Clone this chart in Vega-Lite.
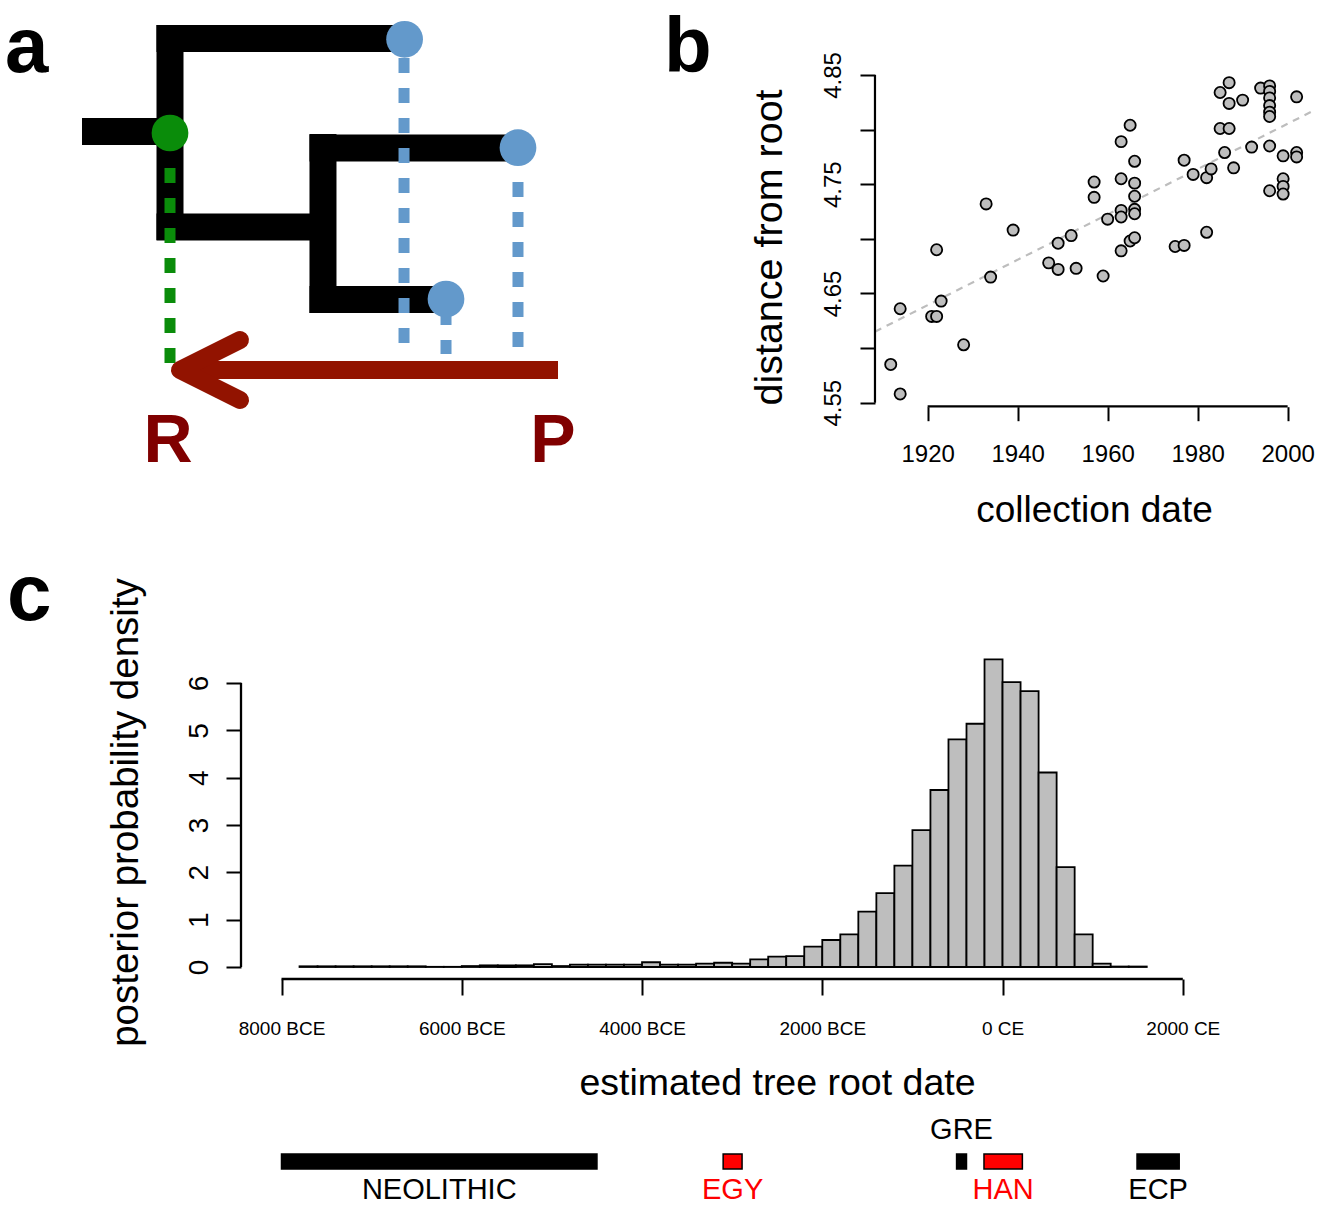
{
  "$schema": "https://vega.github.io/schema/vega-lite/v6.json",
  "padding": 0,
  "background": "white",
  "spacing": 125,
  "bounds": "flush",
  "config": {
    "view": {"stroke": null},
    "font": "Liberation Sans",
    "axis": {"titleFontWeight": "normal", "labelColor": "black", "titleColor": "black", "tickColor": "black", "grid": false, "domain": false, "labelFlush": false, "labelOverlap": false}
  },
  "datasets": {
    "branches": [
      {"x0": -0.2274, "x1": 0.0, "y0": 0.712, "y1": 0.712},
      {"x0": 0.0, "x1": 0.0, "y0": -0.1077, "y1": 1.546},
      {"x0": -0.0349, "x1": 0.6047, "y0": -0.0038, "y1": -0.0038},
      {"x0": -0.0349, "x1": 0.3953, "y0": 1.446, "y1": 1.446},
      {"x0": 0.3953, "x1": 0.3953, "y0": 0.7308, "y1": 2.1077},
      {"x0": 0.3605, "x1": 0.8992, "y0": 0.8385, "y1": 0.8385},
      {"x0": 0.3605, "x1": 0.7132, "y0": 2.0038, "y1": 2.0038}
    ],
    "dashes": [
      {"kind": "root", "x": 0.0, "y0": 0.9923, "y1": 2.5308},
      {"kind": "tip", "x": 0.6047, "y0": 0.146, "y1": 2.392},
      {"kind": "tip", "x": 0.8992, "y0": 1.1, "y1": 2.392},
      {"kind": "tip", "x": 0.7132, "y0": 2.0846, "y1": 2.423}
    ],
    "nodes": [
      {"kind": "root", "x": 0.0, "y": 0.7231},
      {"kind": "tip", "x": 0.6062, "y": 0.0023},
      {"kind": "tip", "x": 0.8992, "y": 0.8362},
      {"kind": "tip", "x": 0.7132, "y": 2.0}
    ],
    "shaft": [{"x0": 0.0258, "x1": 1.0026, "y0": 2.546, "y1": 2.546}],
    "head": [
      {"seq": 1, "x": 0.1809, "y": 2.315},
      {"seq": 2, "x": 0.0258, "y": 2.546},
      {"seq": 3, "x": 0.1809, "y": 2.777}
    ],
    "ends": [
      {"label": "R", "x": -0.0052, "y": 3.2538},
      {"label": "P", "x": 0.9897, "y": 3.2538}
    ],
    "panelA": [{"label": "a", "x": -0.4264, "y": 0.2538}],
    "panelB": [{"label": "b", "year": 1861.4, "dist": 4.85274}],
    "panelC": [{"label": "c", "start": -11045.6, "density": 7.332}],
    "fit": [
      {"year": 1908.3, "dist": 4.615},
      {"year": 2005.3, "dist": 4.8164}
    ],
    "samples": [
      {"year": 1911.8, "dist": 4.585}, {"year": 1913.9, "dist": 4.558}, {"year": 1913.9, "dist": 4.636},
      {"year": 1920.9, "dist": 4.629}, {"year": 1922.0, "dist": 4.629}, {"year": 1923.0, "dist": 4.643},
      {"year": 1922.0, "dist": 4.69}, {"year": 1928.0, "dist": 4.603}, {"year": 1933.0, "dist": 4.732},
      {"year": 1934.0, "dist": 4.665}, {"year": 1939.0, "dist": 4.708}, {"year": 1946.9, "dist": 4.678},
      {"year": 1949.0, "dist": 4.672}, {"year": 1949.0, "dist": 4.696}, {"year": 1951.9, "dist": 4.703},
      {"year": 1953.0, "dist": 4.673}, {"year": 1957.0, "dist": 4.752}, {"year": 1957.0, "dist": 4.738},
      {"year": 1959.0, "dist": 4.666}, {"year": 1960.0, "dist": 4.718}, {"year": 1963.0, "dist": 4.789},
      {"year": 1965.0, "dist": 4.804}, {"year": 1966.0, "dist": 4.771}, {"year": 1963.0, "dist": 4.755},
      {"year": 1966.0, "dist": 4.751}, {"year": 1966.0, "dist": 4.739}, {"year": 1963.0, "dist": 4.726},
      {"year": 1963.0, "dist": 4.72}, {"year": 1966.0, "dist": 4.727}, {"year": 1966.0, "dist": 4.723},
      {"year": 1965.0, "dist": 4.698}, {"year": 1966.0, "dist": 4.701}, {"year": 1963.0, "dist": 4.689},
      {"year": 1977.0, "dist": 4.772}, {"year": 1975.0, "dist": 4.693}, {"year": 1977.0, "dist": 4.694},
      {"year": 1979.0, "dist": 4.759}, {"year": 1982.0, "dist": 4.756}, {"year": 1983.0, "dist": 4.764},
      {"year": 1982.0, "dist": 4.706}, {"year": 1985.0, "dist": 4.834}, {"year": 1987.0, "dist": 4.843},
      {"year": 1987.0, "dist": 4.824}, {"year": 1990.0, "dist": 4.827}, {"year": 1985.0, "dist": 4.801},
      {"year": 1987.0, "dist": 4.801}, {"year": 1986.0, "dist": 4.779}, {"year": 1988.0, "dist": 4.765},
      {"year": 1992.0, "dist": 4.784}, {"year": 1994.0, "dist": 4.838}, {"year": 1996.0, "dist": 4.84},
      {"year": 1996.0, "dist": 4.835}, {"year": 1996.0, "dist": 4.829}, {"year": 1996.0, "dist": 4.822},
      {"year": 1996.0, "dist": 4.816}, {"year": 1996.0, "dist": 4.812}, {"year": 1996.0, "dist": 4.785},
      {"year": 1996.0, "dist": 4.744}, {"year": 1999.0, "dist": 4.776}, {"year": 1999.0, "dist": 4.755},
      {"year": 1999.0, "dist": 4.748}, {"year": 1999.0, "dist": 4.741}, {"year": 2002.0, "dist": 4.83},
      {"year": 2002.0, "dist": 4.779}, {"year": 2002.0, "dist": 4.775}
    ],
    "hist": [
      {"start": -7800, "end": -7600, "density": 0.015}, {"start": -7600, "end": -7400, "density": 0.015},
      {"start": -7400, "end": -7200, "density": 0.015}, {"start": -7200, "end": -7000, "density": 0.015},
      {"start": -7000, "end": -6800, "density": 0.015}, {"start": -6800, "end": -6600, "density": 0.015},
      {"start": -6600, "end": -6400, "density": 0.015}, {"start": -6400, "end": -6200, "density": 0.004},
      {"start": -6200, "end": -6000, "density": 0.004}, {"start": -6000, "end": -5800, "density": 0.02},
      {"start": -5800, "end": -5600, "density": 0.035}, {"start": -5600, "end": -5400, "density": 0.035},
      {"start": -5400, "end": -5200, "density": 0.035}, {"start": -5200, "end": -5000, "density": 0.06},
      {"start": -5000, "end": -4800, "density": 0.02}, {"start": -4800, "end": -4600, "density": 0.05},
      {"start": -4600, "end": -4400, "density": 0.05}, {"start": -4400, "end": -4200, "density": 0.05},
      {"start": -4200, "end": -4000, "density": 0.05}, {"start": -4000, "end": -3800, "density": 0.1},
      {"start": -3800, "end": -3600, "density": 0.05}, {"start": -3600, "end": -3400, "density": 0.05},
      {"start": -3400, "end": -3200, "density": 0.07}, {"start": -3200, "end": -3000, "density": 0.09},
      {"start": -3000, "end": -2800, "density": 0.07}, {"start": -2800, "end": -2600, "density": 0.16},
      {"start": -2600, "end": -2400, "density": 0.22}, {"start": -2400, "end": -2200, "density": 0.23},
      {"start": -2200, "end": -2000, "density": 0.43}, {"start": -2000, "end": -1800, "density": 0.57},
      {"start": -1800, "end": -1600, "density": 0.69}, {"start": -1600, "end": -1400, "density": 1.17},
      {"start": -1400, "end": -1200, "density": 1.56}, {"start": -1200, "end": -1000, "density": 2.14},
      {"start": -1000, "end": -800, "density": 2.89}, {"start": -800, "end": -600, "density": 3.74},
      {"start": -600, "end": -400, "density": 4.81}, {"start": -400, "end": -200, "density": 5.14},
      {"start": -200, "end": 0, "density": 6.5}, {"start": 0, "end": 200, "density": 6.02},
      {"start": 200, "end": 400, "density": 5.83}, {"start": 400, "end": 600, "density": 4.11},
      {"start": 600, "end": 800, "density": 2.11}, {"start": 800, "end": 1000, "density": 0.69},
      {"start": 1000, "end": 1200, "density": 0.07}, {"start": 1200, "end": 1400, "density": 0.01},
      {"start": 1400, "end": 1600, "density": 0.01}
    ],
    "periods": [
      {"period": "NEOLITHIC", "start": -8000, "end": -4500, "emphasis": "no"},
      {"period": "EGY", "start": -3100, "end": -2890, "emphasis": "yes"},
      {"period": "GRE", "start": -510, "end": -400, "emphasis": "no"},
      {"period": "HAN", "start": -206, "end": 220, "emphasis": "yes"},
      {"period": "ECP", "start": 1492, "end": 1960, "emphasis": "no"}
    ]
  },
  "vconcat": [
    {
      "width": 1332,
      "height": 523,
      "resolve": {"scale": {"x": "independent", "y": "independent", "color": "independent"}},
      "layer": [
        {
          "layer": [
            {
              "data": {"name": "branches"},
              "mark": {"type": "rule", "strokeWidth": 27, "color": "black", "strokeCap": "butt"},
              "encoding": {
                "x": {"field": "x0", "type": "quantitative", "scale": {"domain": [-0.43928, 3.00258], "nice": false, "zero": false}, "axis": null},
                "x2": {"field": "x1"},
                "y": {"field": "y0", "type": "quantitative", "scale": {"domain": [3.7231, -0.3], "nice": false, "zero": false}, "axis": null},
                "y2": {"field": "y1"}
              }
            },
            {
              "data": {"name": "dashes"},
              "mark": {"type": "rule", "strokeWidth": 11, "strokeDash": [15, 15], "strokeCap": "butt"},
              "encoding": {
                "x": {"field": "x", "type": "quantitative"},
                "y": {"field": "y0", "type": "quantitative"},
                "y2": {"field": "y1"},
                "color": {"field": "kind", "type": "nominal", "scale": {"domain": ["root", "tip"], "range": ["#0a8c0a", "#6399cb"]}, "legend": null}
              }
            },
            {
              "data": {"name": "nodes"},
              "mark": {"type": "point", "filled": true, "size": 1350, "opacity": 1},
              "encoding": {
                "x": {"field": "x", "type": "quantitative"},
                "y": {"field": "y", "type": "quantitative"},
                "color": {"field": "kind", "type": "nominal", "legend": null}
              }
            },
            {
              "data": {"name": "shaft"},
              "mark": {"type": "rule", "strokeWidth": 18, "color": "#921300", "strokeCap": "butt"},
              "encoding": {
                "x": {"field": "x0", "type": "quantitative"},
                "x2": {"field": "x1"},
                "y": {"field": "y0", "type": "quantitative"},
                "y2": {"field": "y1"}
              }
            },
            {
              "data": {"name": "head"},
              "mark": {"type": "line", "strokeWidth": 18, "color": "#921300", "strokeCap": "round", "strokeJoin": "round"},
              "encoding": {
                "x": {"field": "x", "type": "quantitative"},
                "y": {"field": "y", "type": "quantitative"},
                "order": {"field": "seq", "type": "quantitative"}
              }
            },
            {
              "data": {"name": "ends"},
              "mark": {"type": "text", "fontSize": 68, "fontWeight": "bold", "color": "#800000", "align": "center", "baseline": "alphabetic"},
              "encoding": {
                "x": {"field": "x", "type": "quantitative"},
                "y": {"field": "y", "type": "quantitative"},
                "text": {"field": "label"}
              }
            },
            {
              "data": {"name": "panelA"},
              "mark": {"type": "text", "fontSize": 78, "fontWeight": "bold", "color": "black", "align": "left", "baseline": "alphabetic"},
              "encoding": {
                "x": {"field": "x", "type": "quantitative"},
                "y": {"field": "y", "type": "quantitative"},
                "text": {"field": "label"}
              }
            }
          ]
        },
        {
          "layer": [
            {
              "data": {"name": "fit"},
              "mark": {"type": "line", "color": "#bdbdbd", "strokeWidth": 2.2, "strokeDash": [7, 6]},
              "encoding": {
                "x": {
                  "field": "year", "type": "quantitative",
                  "scale": {"domain": [1713.86, 2009.86], "nice": false, "zero": false},
                  "axis": {
                    "orient": "bottom", "offset": -116.3, "values": [1920, 1940, 1960, 1980, 2000], "format": "d",
                    "tickSize": 14, "tickWidth": 2, "labelFontSize": 24, "labelPadding": 22,
                    "title": "collection date", "titleFontSize": 37, "titleX": 1094, "titleY": 115, "titleBaseline": "alphabetic", "titleAlign": "center"
                  }
                },
                "y": {
                  "field": "dist", "type": "quantitative",
                  "scale": {"domain": [4.43985, 4.91866], "nice": false, "zero": false},
                  "axis": {
                    "orient": "left", "offset": -875, "values": [4.55, 4.6, 4.65, 4.7, 4.75, 4.8, 4.85],
                    "labelExpr": "abs(round(datum.value * 100) % 10) == 5 ? format(datum.value, '.2f') : ''",
                    "tickSize": 15, "tickWidth": 2, "labelFontSize": 24, "labelPadding": 15, "labelAngle": 270, "labelAlign": "center", "labelBaseline": "bottom",
                    "title": "distance from root", "titleFontSize": 39.5, "titleAngle": 270, "titleX": -94, "titleY": 247, "titleBaseline": "alphabetic", "titleAlign": "center"
                  }
                }
              }
            },
            {
              "data": {"name": "samples"},
              "mark": {"type": "point", "filled": true, "fill": "#bebebe", "stroke": "black", "strokeWidth": 1.8, "size": 125, "opacity": 1},
              "encoding": {
                "x": {"field": "year", "type": "quantitative"},
                "y": {"field": "dist", "type": "quantitative"}
              }
            },
            {
              "data": {"values": [{}]},
              "mark": {"type": "rule", "strokeWidth": 2.2, "color": "black"},
              "encoding": {
                "x": {"datum": 1920, "type": "quantitative"},
                "x2": {"datum": 2000},
                "y": {"datum": 4.5466, "type": "quantitative"}
              }
            },
            {
              "data": {"values": [{}]},
              "mark": {"type": "rule", "strokeWidth": 2.2, "color": "black"},
              "encoding": {
                "x": {"datum": 1908.3, "type": "quantitative"},
                "y": {"datum": 4.55, "type": "quantitative"},
                "y2": {"datum": 4.85}
              }
            },
            {
              "data": {"name": "panelB"},
              "mark": {"type": "text", "fontSize": 78, "fontWeight": "bold", "color": "black", "align": "left", "baseline": "alphabetic"},
              "encoding": {
                "x": {"field": "year", "type": "quantitative"},
                "y": {"field": "dist", "type": "quantitative"},
                "text": {"field": "label"}
              }
            }
          ]
        }
      ]
    },
    {
      "width": 1332,
      "height": 331,
      "layer": [
        {
          "data": {"name": "hist"},
          "mark": {"type": "rect", "fill": "#bebebe", "stroke": "black", "strokeWidth": 1.8},
          "encoding": {
            "x": {
              "field": "start", "type": "quantitative",
              "scale": {"domain": [-11123.3, 3655.3], "nice": false, "zero": false},
              "axis": {
                "orient": "bottom", "values": [-8000, -6000, -4000, -2000, 0, 2000],
                "labelExpr": "datum.value < 0 ? (-datum.value) + ' BCE' : datum.value + ' CE'",
                "tickSize": 16, "tickWidth": 2, "labelFontSize": 19, "labelPadding": 24,
                "title": "estimated tree root date", "titleFontSize": 37.5, "titleX": 777, "titleY": 115, "titleBaseline": "alphabetic", "titleAlign": "center"
              }
            },
            "x2": {"field": "end"},
            "y": {
              "field": "density", "type": "quantitative",
              "scale": {"domain": [-0.2535, 6.74], "nice": false, "zero": false},
              "axis": {
                "orient": "left", "offset": -241, "values": [0, 1, 2, 3, 4, 5, 6],
                "tickSize": 15, "tickWidth": 2, "labelFontSize": 28, "labelPadding": 13, "labelAngle": 270, "labelAlign": "center", "labelBaseline": "bottom",
                "title": "posterior probability density", "titleFontSize": 38.5, "titleAngle": 270, "titleX": -104, "titleY": 164, "titleBaseline": "alphabetic", "titleAlign": "center"
              }
            },
            "y2": {"datum": 0}
          }
        },
        {
          "data": {"values": [{}]},
          "mark": {"type": "rule", "strokeWidth": 2.3, "color": "black"},
          "encoding": {
            "x": {"datum": -8000, "type": "quantitative"},
            "x2": {"datum": 2000},
            "y": {"datum": -0.2535, "type": "quantitative"}
          }
        },
        {
          "data": {"values": [{}]},
          "mark": {"type": "rule", "strokeWidth": 2.3, "color": "black"},
          "encoding": {
            "x": {"datum": -8449.4, "type": "quantitative"},
            "y": {"datum": 0, "type": "quantitative"},
            "y2": {"datum": 6}
          }
        },
        {
          "data": {"name": "panelC"},
          "mark": {"type": "text", "fontSize": 80, "fontWeight": "bold", "color": "black", "align": "left", "baseline": "alphabetic"},
          "encoding": {
            "x": {"field": "start", "type": "quantitative"},
            "y": {"field": "density", "type": "quantitative"},
            "text": {"field": "label"}
          }
        }
      ]
    },
    {
      "width": 1332,
      "height": 100,
      "data": {"name": "periods"},
      "layer": [
        {
          "mark": {"type": "rect", "stroke": "black", "strokeWidth": 1.5},
          "encoding": {
            "x": {"field": "start", "type": "quantitative", "scale": {"domain": [-11123.3, 3655.3], "nice": false, "zero": false}, "axis": null},
            "x2": {"field": "end"},
            "y": {"datum": 35, "type": "quantitative", "scale": {"domain": [0, 100], "nice": false, "zero": false}, "axis": null},
            "y2": {"datum": 50},
            "color": {"field": "emphasis", "type": "nominal", "scale": {"domain": ["no", "yes"], "range": ["black", "#ff0000"]}, "legend": null}
          }
        },
        {
          "transform": [
            {"filter": "datum.period != 'GRE'"},
            {"fold": ["start", "end"], "as": ["edge", "year"]},
            {"aggregate": [{"op": "mean", "field": "year", "as": "mid"}], "groupby": ["period", "emphasis"]}
          ],
          "mark": {"type": "text", "fontSize": 29, "align": "center", "baseline": "middle"},
          "encoding": {
            "x": {"field": "mid", "type": "quantitative"},
            "y": {"datum": 14, "type": "quantitative"},
            "text": {"field": "period"},
            "color": {"field": "emphasis", "type": "nominal", "legend": null}
          }
        },
        {
          "transform": [
            {"filter": "datum.period == 'GRE'"},
            {"fold": ["start", "end"], "as": ["edge", "year"]},
            {"aggregate": [{"op": "mean", "field": "year", "as": "mid"}], "groupby": ["period", "emphasis"]}
          ],
          "mark": {"type": "text", "fontSize": 29, "align": "center", "baseline": "middle"},
          "encoding": {
            "x": {"field": "mid", "type": "quantitative"},
            "y": {"datum": 74, "type": "quantitative"},
            "text": {"field": "period"},
            "color": {"field": "emphasis", "type": "nominal", "legend": null}
          }
        }
      ]
    }
  ]
}
